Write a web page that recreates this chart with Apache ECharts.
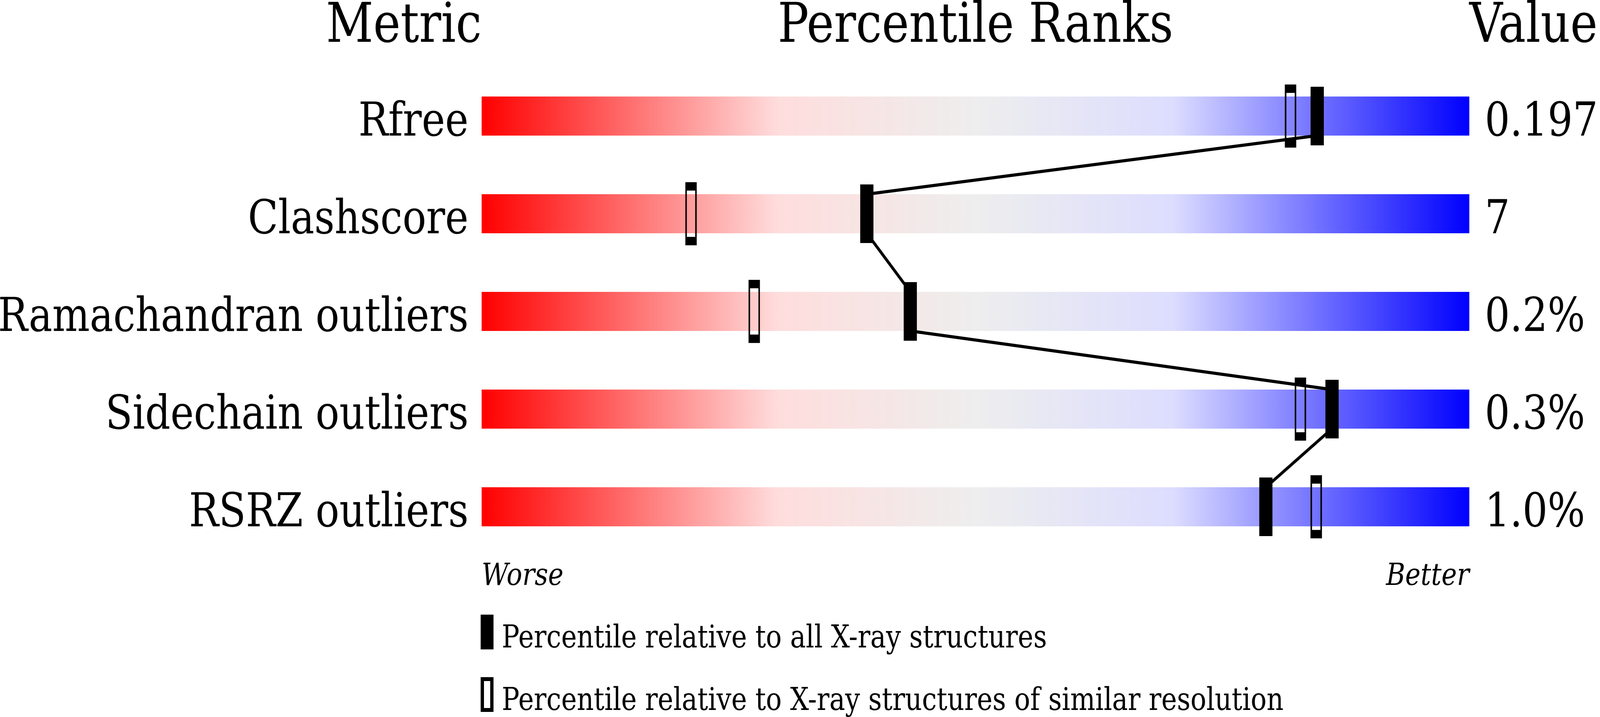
<!DOCTYPE html>
<html>
<head>
<meta charset="utf-8">
<script src="https://cdn.jsdelivr.net/npm/echarts@6/dist/echarts.min.js"></script>
<style>
html,body{margin:0;padding:0;background:#fff;overflow:hidden;}
#chart{width:4860px;height:1835px;transform-origin:0 0;}
</style>
</head>
<body>
<div id="chart"></div>
<script>
// ---- data ----
const metrics = ['Rfree', 'Clashscore', 'Ramachandran outliers', 'Sidechain outliers', 'RSRZ outliers'];
const valueLabels = ['0.197', '7', '0.2%', '0.3%', '1.0%'];
const pctAll = [84.6, 39.0, 43.4, 86.1, 79.4];       // percentile relative to all X-ray structures
const pctSimilar = [81.9, 21.2, 27.6, 82.9, 84.5];   // percentile relative to similar resolution
const fullScale = [100, 100, 100, 100, 100];
const headers = ['Metric', 'Percentile Ranks', 'Value'];
const endLabels = ['Worse', 'Better'];
const nameAll = 'Percentile relative to all X-ray structures';
const nameSim = 'Percentile relative to X-ray structures of similar resolution';

// ---- layout (reference is 4860 x 1835) ----
const W = 4860, H = 1835;
const dom = document.getElementById('chart');
const sx = (window.innerWidth || W) / W, sy = (window.innerHeight || H) / H;
dom.style.transform = 'scale(' + sx + ',' + sy + ')';

const FONT = '"DejaVu Serif", "Liberation Serif", serif';
const mctx = document.createElement('canvas').getContext('2d');
// distance from the "middle" text baseline down to the alphabetic baseline
function midToBase(fs, italic) {
  mctx.font = (italic ? 'italic ' : '') + fs + 'px "DejaVu Serif"';
  mctx.textBaseline = 'middle';
  const m = mctx.measureText('H');
  const d = m.actualBoundingBoxDescent;
  return (typeof d === 'number' && isFinite(d)) ? d : 0.346 * fs;
}
const FS_HEAD = 140, FS_LABEL = 120, FS_END = 79, FS_LEG = 80;
const dHead = midToBase(FS_HEAD, false);
const dLabel = midToBase(FS_LABEL, false);
const dEnd = midToBase(FS_END, true);
const dLeg = midToBase(FS_LEG, false);

const headBase = 107, endBase = 1497;
const barHalf = 50;                                   // label baseline sits at bar bottom
const labelLH = Math.max(2, 2 * (barHalf - dLabel));
const legTop = 1573, legBase = 1657, legIcon = 89, legStep = 160;
const legItemH = 2 * ((legBase - dLeg) - legTop);

const chart = echarts.init(dom, null, {renderer: 'canvas', width: W, height: H});

const gradient = new echarts.graphic.LinearGradient(0, 0, 1, 0, [
  {offset: 0, color: '#ff0000'},
  {offset: 0.3, color: '#ffdddd'},
  {offset: 0.5, color: '#eeeeee'},
  {offset: 0.7, color: '#ddddff'},
  {offset: 1, color: '#0000ff'}
]);

const connectors = [];
for (let i = 0; i < pctAll.length - 1; i++) {
  connectors.push([pctAll[i], i, pctAll[i + 1], i + 1]);
}

const iconFilled = 'path://M0,0H39V' + legIcon + 'H0Z M0,' + legItemH + 'L39,' + legItemH;
const iconOpen = 'path://M0,0H39V' + legIcon + 'H0Z M10,10V' + (legIcon - 10) + 'H29V10Z M0,' + legItemH + 'L39,' + legItemH;

const option = {
  animation: false,
  backgroundColor: '#ffffff',
  grid: {left: 1463, right: 397, top: 172, bottom: 413, containLabel: false, outerBoundsMode: 'none'},
  xAxis: {type: 'value', min: 0, max: 100, show: false},
  yAxis: [
    {
      type: 'category', data: metrics, inverse: true,
      axisLine: {show: false}, axisTick: {show: false}, splitLine: {show: false},
      axisLabel: {
        margin: 40, fontFamily: FONT, fontSize: FS_LABEL, color: '#000',
        verticalAlign: 'top', lineHeight: labelLH
      }
    },
    {
      type: 'category', data: valueLabels, inverse: true, position: 'right',
      axisLine: {show: false}, axisTick: {show: false}, splitLine: {show: false},
      axisLabel: {
        margin: 47, fontFamily: FONT, fontSize: FS_LABEL, color: '#000', align: 'left',
        verticalAlign: 'top', lineHeight: labelLH
      }
    }
  ],
  legend: {
    orient: 'vertical', left: 1460, top: legTop, height: 400, padding: 0,
    itemWidth: 39, itemHeight: legItemH, itemGap: legStep - legItemH,
    selectedMode: false,
    textStyle: {fontFamily: FONT, fontSize: FS_LEG, color: '#000', padding: [0, 0, 0, 20]},
    data: [
      {name: nameAll, icon: iconFilled, itemStyle: {color: '#000', borderWidth: 0}},
      {name: nameSim, icon: iconOpen, itemStyle: {color: '#000', borderWidth: 0}}
    ]
  },
  graphic: [
    {type: 'text', x: 1463, y: headBase - dHead, style: {text: headers[0], fontFamily: FONT, fontSize: FS_HEAD, fill: '#000', align: 'right', verticalAlign: 'middle'}},
    {type: 'text', x: 2963, y: headBase - dHead, style: {text: headers[1], fontFamily: FONT, fontSize: FS_HEAD, fill: '#000', align: 'center', verticalAlign: 'middle'}},
    {type: 'text', x: 4463, y: headBase - dHead, style: {text: headers[2], fontFamily: FONT, fontSize: FS_HEAD, fill: '#000', align: 'left', verticalAlign: 'middle'}},
    {type: 'text', x: 1463, y: endBase - dEnd, style: {text: endLabels[0], fontFamily: FONT, fontStyle: 'italic', fontSize: FS_END, fill: '#000', align: 'left', verticalAlign: 'middle'}},
    {type: 'text', x: 4463, y: endBase - dEnd, style: {text: endLabels[1], fontFamily: FONT, fontStyle: 'italic', fontSize: FS_END, fill: '#000', align: 'right', verticalAlign: 'middle'}}
  ],
  series: [
    {
      type: 'bar', name: 'scale', data: fullScale, barWidth: 100, silent: true, z: 1,
      itemStyle: {color: gradient}
    },
    {
      type: 'scatter', name: nameSim, z: 2, silent: true,
      data: pctSimilar.map((v, i) => [v, i]),
      symbol: 'rect', symbolSize: [30, 140],
      itemStyle: {color: 'rgba(0,0,0,0)', borderColor: '#000', borderWidth: 10, opacity: 1}
    },
    {
      type: 'custom', name: 'connector', z: 3, silent: true,
      data: connectors,
      encode: {x: [0, 2], y: [1, 3]},
      renderItem: function (params, api) {
        const p1 = api.coord([api.value(0), api.value(1)]);
        const p2 = api.coord([api.value(2), api.value(3)]);
        const half = api.size([0, 1])[1] * 0.2;
        return {
          type: 'line',
          shape: {x1: p1[0], y1: p1[1] + half, x2: p2[0], y2: p2[1] - half},
          style: {stroke: '#000', lineWidth: 8, fill: null}
        };
      }
    },
    {
      type: 'scatter', name: nameAll, z: 4, silent: true,
      data: pctAll.map((v, i) => [v, i]),
      symbol: 'rect', symbolSize: [40, 150],
      itemStyle: {color: '#000', opacity: 1}
    }
  ]
};
chart.setOption(option);
</script>
</body>
</html>
